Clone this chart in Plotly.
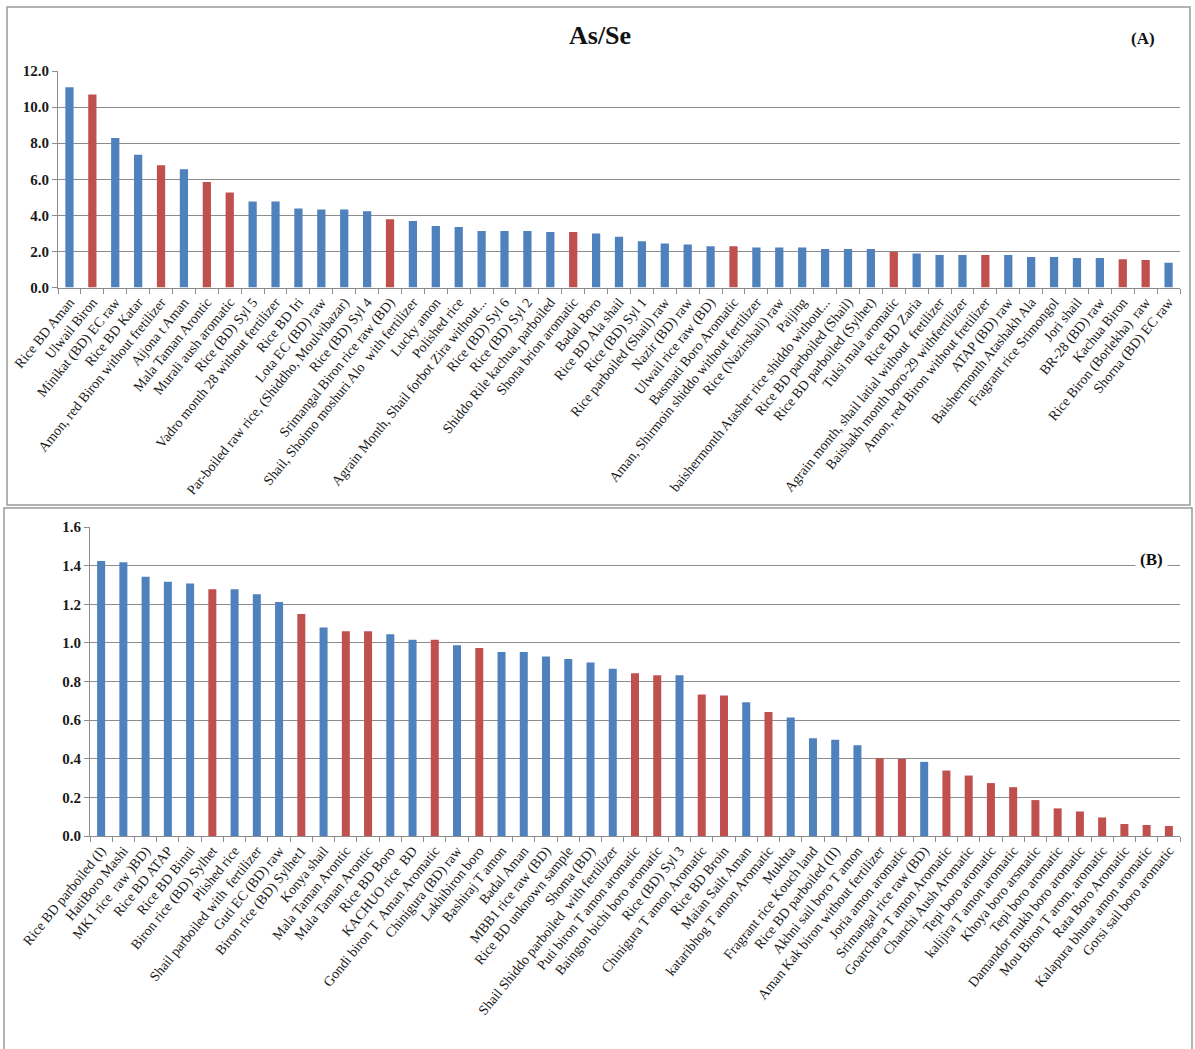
import plotly.graph_objects as go

# ---- Panel A: As/Se molar ratio, higher-ratio samples ----
names_a = [
    "Rice BD Aman", "Ulwail Biron", "Minikat (BD) EC raw", "Rice BD Katar",
    "Amon, red Biron without fretilizer", "Aijona t Aman", "Mala Taman Arontic",
    "Murali aush aromatic", "Rice (BD) Syl 5", "Vadro month 28 without fertilizer",
    "Rice BD Iri", "Lota EC (BD) raw", "Par-boiled raw rice, (Shiddho, Moulvibazar)",
    "Rice (BD) Syl 4", "Srimangal Biron rice raw (BD)",
    "Shail, Shoimo moshuri Alo  with fertilizer", "Lucky amon", "Polished rice",
    "Agrain Month, Shail forbot Zira without...", "Rice (BD) Syl 6", "Rice (BD) Syl 2",
    "Shiddo Rile kachua, parboiled", "Shona brion aromatic", "Badal Boro",
    "Rice BD Ala shail", "Rice (BD) Syl 1", "Rice parboiled (Shail) raw",
    "Nazir (BD) raw", "Ulwail rice raw (BD)", "Basmati Boro Aromatic",
    "Aman, Shirmoin shiddo without fertilizer", "Rice (Nazirshali) raw", "Paijing",
    "baishermonth Atasher rice shiddo without...", "Rice BD parboiled (Shail)",
    "Rice BD parboiled (Sylhet)", "Tulsi mala aromatic", "Rice BD Zaria",
    "Agrain month, shail latial without  fretilizer",
    "Baishakh month boro-29 withfertilizer", "Amon, red Biron without fretilizer",
    "ATAP (BD) raw", "Baishermonth Atashakh Ala", "Fragrant rice Srimongol",
    "Jori shail", "BR-28 (BD) raw", "Kachua Biron", "Rice Biron (Borlekha)  raw",
    "Shorna (BD) EC raw",
]
values_a = [
    11.1, 10.7, 8.28, 7.36, 6.77, 6.55, 5.85, 5.26, 4.76, 4.76,
    4.38, 4.33, 4.33, 4.22, 3.78, 3.68, 3.41, 3.36, 3.13, 3.13,
    3.13, 3.07, 3.07, 3.0, 2.81, 2.56, 2.44, 2.39, 2.28, 2.28,
    2.22, 2.22, 2.22, 2.13, 2.13, 2.13, 1.98, 1.89, 1.80, 1.80,
    1.80, 1.80, 1.69, 1.69, 1.63, 1.63, 1.57, 1.52, 1.37,
]
groups_a = [
    "b", "r", "b", "b", "r", "b", "r", "r", "b", "b",
    "b", "b", "b", "b", "r", "b", "b", "b", "b", "b",
    "b", "b", "r", "b", "b", "b", "b", "b", "b", "r",
    "b", "b", "b", "b", "b", "b", "r", "b", "b", "b",
    "r", "b", "b", "b", "b", "b", "r", "r", "b",
]

# ---- Panel B: As/Se molar ratio, lower-ratio samples ----
names_b = [
    "Rice BD parboiled (I)", "HatiBoro Mashi", "MK1 rice  raw )BD)", "Rice BD ATAP",
    "Rice BD Binni", "Biron rice (BD) Sylhet", "Plished rice",
    "Shail parboiled with  fertilizer", "Guti EC (BD) raw", "Biron rice (BD) Sylhet1",
    "Konya shail", "Mala Taman Arontic", "Mala Taman Arontic", "Rice BD Boro",
    "KACHUO rice  BD", "Gondi biron T  Aman Aromatic", "Chinigura (BD) raw",
    "Lakhibiron boro", "Bashiraj T amon", "Badal Aman", "MBB1 rice raw (BD)",
    "Rice BD unknown sample", "Shoma (BD)", "Shail Shiddo parboiled  with fertilizer",
    "Puti biron T amon aromatic", "Baingon bichi boro aromatic", "Rice (BD) Syl 3",
    "Chinigura T amon Aromatic", "Rice BD Broin", "Maian Sailt Aman",
    "kataribhog T amon Aromatic", "Mukhta", "Fragrant rice Kouch land",
    "Rice BD parboiled (II)", "Akhni sail boro T amon",
    "Aman Kak biron without fertilizer", "Joria amon aromatic",
    "Srimangal rice raw (BD)", "Goarchora T amon Aromatic", "Chanchi Aush Aromatic",
    "Tepi boro aromatic", "kalijira T amon aromatic", "Khoya boro arsmatic",
    "Tepi boro aromatic", "Damandor mukh boro aromatic", "Mou Biron T arom, aromatic",
    "Rata Boro Aromatic", "Kalapura bhuna amon aromatic", "Gorsi sail boro aromatic",
]
values_b = [
    1.424, 1.417, 1.343, 1.317, 1.307, 1.278, 1.278, 1.252, 1.212, 1.150,
    1.079, 1.060, 1.060, 1.045, 1.016, 1.016, 0.988, 0.974, 0.953, 0.953,
    0.929, 0.916, 0.898, 0.866, 0.843, 0.833, 0.833, 0.733, 0.728, 0.692,
    0.642, 0.613, 0.506, 0.499, 0.470, 0.403, 0.399, 0.384, 0.339, 0.313,
    0.274, 0.253, 0.186, 0.143, 0.127, 0.096, 0.062, 0.057, 0.052,
]
groups_b = [
    "b", "b", "b", "b", "b", "r", "b", "b", "b", "r",
    "b", "r", "r", "b", "b", "r", "b", "r", "b", "b",
    "b", "b", "b", "b", "r", "r", "b", "r", "r", "b",
    "r", "b", "b", "b", "b", "r", "r", "b", "r", "r",
    "r", "r", "r", "r", "r", "r", "r", "r", "r",
]

COLORS = {"b": "#4F81BD", "r": "#C0504D"}
W, H = 1195, 1049
SERIF = "Liberation Serif, Times New Roman, serif"
GRID = "#8C8C8C"
FRAME = "#9A9A9A"


def py(px):
    """Convert a pixel row (from the top) to paper y."""
    return 1 - px / H


def px_x(px):
    return px / W


fig = go.Figure()

fig.add_trace(go.Bar(
    x=list(range(len(values_a))), y=values_a,
    marker=dict(color=[COLORS[g] for g in groups_a], line=dict(width=0)),
    xaxis="x", yaxis="y", showlegend=False,
    hovertext=names_a,
))
fig.add_trace(go.Bar(
    x=list(range(len(values_b))), y=values_b,
    marker=dict(color=[COLORS[g] for g in groups_b], line=dict(width=0)),
    xaxis="x2", yaxis="y2", showlegend=False,
    hovertext=names_b,
))


def x_axis(names, domain, anchor):
    n = len(names)
    return dict(
        domain=domain, anchor=anchor, automargin=False,
        range=[-0.5, n - 0.5],
        tickmode="array", tickvals=list(range(n)), ticktext=names,
        tickangle=-51, ticks="", showgrid=False,
        tickfont=dict(family=SERIF, size=14, color="#1a1a1a"),
        showline=True, linecolor=GRID, linewidth=1,
        minor=dict(tickmode="array", tickvals=[i - 0.5 for i in range(n + 1)],
                   ticks="outside", ticklen=5, tickcolor=GRID, showgrid=False),
        zeroline=False, fixedrange=True,
    )


def y_axis(domain, anchor, rng, dtick):
    return dict(
        domain=domain, anchor=anchor, range=rng, dtick=dtick, tick0=0,
        automargin=False, tickformat=".1f",
        tickfont=dict(family=SERIF, size=15, color="#1a1a1a", weight="bold"),
        showgrid=True, gridcolor=GRID, gridwidth=1,
        showline=True, linecolor=GRID, linewidth=1,
        ticks="outside", ticklen=5, tickcolor=GRID,
        zeroline=False, fixedrange=True,
    )


fig.update_layout(
    width=W, height=H,
    margin=dict(l=0, r=0, t=0, b=0, autoexpand=False),
    paper_bgcolor="white", plot_bgcolor="white",
    bargap=0.64,
    xaxis=x_axis(names_a, [px_x(58), px_x(1180)], "y"),
    yaxis=y_axis([py(287.5), py(71)], "x", [0, 12], 2),
    xaxis2=x_axis(names_b, [px_x(90), px_x(1180)], "y2"),
    yaxis2=y_axis([py(836), py(527)], "x2", [0, 1.6], 0.2),
    shapes=[
        dict(type="rect", xref="paper", yref="paper",
             x0=px_x(7), x1=px_x(1190), y0=py(505), y1=py(7),
             line=dict(color=FRAME, width=1.5), fillcolor="rgba(0,0,0,0)"),
        dict(type="rect", xref="paper", yref="paper",
             x0=px_x(4), x1=px_x(1192), y0=py(1052), y1=py(508),
             line=dict(color=FRAME, width=1.5), fillcolor="rgba(0,0,0,0)"),
    ],
    annotations=[
        dict(text="<b>As/Se</b>", xref="paper", yref="paper",
             x=px_x(600), y=py(36), xanchor="center", yanchor="middle",
             showarrow=False,
             font=dict(family=SERIF, size=26, color="#111")),
        dict(text="<b>(A)</b>", xref="paper", yref="paper",
             x=px_x(1143), y=py(38), xanchor="center", yanchor="middle",
             showarrow=False,
             font=dict(family=SERIF, size=17, color="#111")),
        dict(text="<b>(B)</b>", xref="paper", yref="paper",
             x=px_x(1151), y=py(559), xanchor="center", yanchor="middle",
             showarrow=False, bgcolor="white", borderpad=4,
             font=dict(family=SERIF, size=17, color="#111")),
    ],
)

fig.write_html("out.html")
